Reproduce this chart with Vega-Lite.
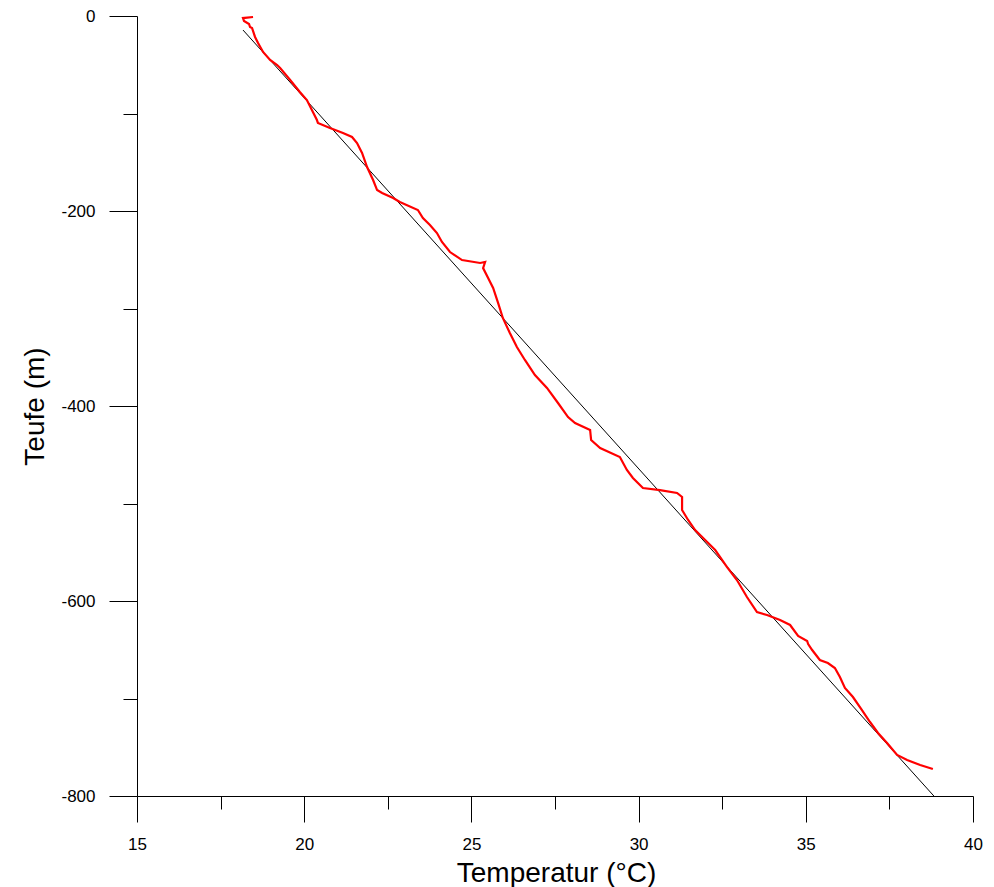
{
  "$schema": "https://vega.github.io/schema/vega-lite/v6.json",
  "autosize": "none",
  "width": 836,
  "height": 780,
  "padding": {"left": 137, "top": 16, "right": 21, "bottom": 91},
  "background": "white",
  "config": {"view": {"stroke": null}, "font": "Liberation Sans"},
  "datasets": {
    "profile": [
      {"i": 1, "T": 18.47, "z": -1.0},
      {"i": 2, "T": 18.17, "z": -2.1},
      {"i": 3, "T": 18.2, "z": -5.1},
      {"i": 4, "T": 18.35, "z": -8.2},
      {"i": 5, "T": 18.38, "z": -11.3},
      {"i": 6, "T": 18.44, "z": -12.3},
      {"i": 7, "T": 18.53, "z": -21.5},
      {"i": 8, "T": 18.62, "z": -27.7},
      {"i": 9, "T": 18.77, "z": -36.9},
      {"i": 10, "T": 18.98, "z": -45.1},
      {"i": 11, "T": 19.19, "z": -50.3},
      {"i": 12, "T": 19.28, "z": -53.3},
      {"i": 13, "T": 19.58, "z": -65.6},
      {"i": 14, "T": 19.87, "z": -77.9},
      {"i": 15, "T": 20.08, "z": -86.2},
      {"i": 16, "T": 20.26, "z": -98.5},
      {"i": 17, "T": 20.38, "z": -106.7},
      {"i": 18, "T": 20.41, "z": -109.7},
      {"i": 19, "T": 20.77, "z": -114.9},
      {"i": 20, "T": 21.16, "z": -120.0},
      {"i": 21, "T": 21.43, "z": -124.1},
      {"i": 22, "T": 21.58, "z": -130.3},
      {"i": 23, "T": 21.73, "z": -140.5},
      {"i": 24, "T": 21.88, "z": -154.9},
      {"i": 25, "T": 22.06, "z": -168.2},
      {"i": 26, "T": 22.18, "z": -178.5},
      {"i": 27, "T": 22.33, "z": -181.5},
      {"i": 28, "T": 22.66, "z": -186.7},
      {"i": 29, "T": 22.86, "z": -190.8},
      {"i": 30, "T": 23.4, "z": -199.0},
      {"i": 31, "T": 23.55, "z": -207.2},
      {"i": 32, "T": 23.76, "z": -214.4},
      {"i": 33, "T": 23.97, "z": -222.6},
      {"i": 34, "T": 24.12, "z": -231.8},
      {"i": 35, "T": 24.36, "z": -242.1},
      {"i": 36, "T": 24.72, "z": -250.3},
      {"i": 37, "T": 25.26, "z": -253.3},
      {"i": 38, "T": 25.41, "z": -252.3},
      {"i": 39, "T": 25.35, "z": -258.5},
      {"i": 40, "T": 25.5, "z": -268.7},
      {"i": 41, "T": 25.65, "z": -279.0},
      {"i": 42, "T": 25.8, "z": -294.4},
      {"i": 43, "T": 25.94, "z": -309.7},
      {"i": 44, "T": 26.15, "z": -325.1},
      {"i": 45, "T": 26.36, "z": -339.5},
      {"i": 46, "T": 26.6, "z": -352.8},
      {"i": 47, "T": 26.9, "z": -368.2},
      {"i": 48, "T": 27.26, "z": -381.5},
      {"i": 49, "T": 27.59, "z": -396.9},
      {"i": 50, "T": 27.89, "z": -411.3},
      {"i": 51, "T": 28.1, "z": -417.4},
      {"i": 52, "T": 28.55, "z": -424.6},
      {"i": 53, "T": 28.58, "z": -434.9},
      {"i": 54, "T": 28.85, "z": -443.1},
      {"i": 55, "T": 29.44, "z": -452.3},
      {"i": 56, "T": 29.65, "z": -465.6},
      {"i": 57, "T": 29.83, "z": -473.8},
      {"i": 58, "T": 30.13, "z": -484.1},
      {"i": 59, "T": 30.64, "z": -486.2},
      {"i": 60, "T": 31.15, "z": -489.2},
      {"i": 61, "T": 31.3, "z": -493.3},
      {"i": 62, "T": 31.3, "z": -506.7},
      {"i": 63, "T": 31.48, "z": -516.9},
      {"i": 64, "T": 31.69, "z": -527.2},
      {"i": 65, "T": 31.99, "z": -537.4},
      {"i": 66, "T": 32.29, "z": -547.7},
      {"i": 67, "T": 32.64, "z": -565.1},
      {"i": 68, "T": 32.94, "z": -578.5},
      {"i": 69, "T": 33.24, "z": -595.9},
      {"i": 70, "T": 33.54, "z": -611.3},
      {"i": 71, "T": 33.84, "z": -614.4},
      {"i": 72, "T": 34.23, "z": -619.5},
      {"i": 73, "T": 34.53, "z": -624.6},
      {"i": 74, "T": 34.77, "z": -635.9},
      {"i": 75, "T": 35.04, "z": -641.0},
      {"i": 76, "T": 35.07, "z": -644.1},
      {"i": 77, "T": 35.19, "z": -650.3},
      {"i": 78, "T": 35.42, "z": -660.5},
      {"i": 79, "T": 35.66, "z": -663.6},
      {"i": 80, "T": 35.87, "z": -668.7},
      {"i": 81, "T": 36.02, "z": -678.0},
      {"i": 82, "T": 36.17, "z": -689.2},
      {"i": 83, "T": 36.41, "z": -698.5},
      {"i": 84, "T": 36.68, "z": -711.8},
      {"i": 85, "T": 36.92, "z": -724.1},
      {"i": 86, "T": 37.16, "z": -735.4},
      {"i": 87, "T": 37.43, "z": -745.6},
      {"i": 88, "T": 37.73, "z": -757.9},
      {"i": 89, "T": 38.03, "z": -763.1},
      {"i": 90, "T": 38.42, "z": -768.2},
      {"i": 91, "T": 38.8, "z": -772.3}
    ],
    "fit": [
      {"i": 1, "T": 18.17, "z": -14.4},
      {"i": 2, "T": 38.83, "z": -800}
    ]
  },
  "layer": [
    {
      "data": {"name": "fit"},
      "mark": {"type": "line", "color": "black", "strokeWidth": 1},
      "encoding": {
        "x": {
          "field": "T", "type": "quantitative",
          "scale": {"domain": [15, 40], "nice": false, "zero": false},
          "axis": {
            "title": "Temperatur (°C)",
            "values": [15, 17.5, 20, 22.5, 25, 27.5, 30, 32.5, 35, 37.5, 40],
            "labelExpr": "datum.value % 5 === 0 ? '' + datum.value : ''",
            "grid": false,
            "domainColor": "black",
            "tickColor": "black",
            "tickSize": 26,
            "tickDash": {"condition": {"test": "datum.value % 5 === 0", "value": [1000, 0]}, "value": [13, 100]},
            "labelFont": "Liberation Sans",
            "labelFontSize": 17,
            "labelColor": "black",
            "labelPadding": 14,
            "labelFlush": false,
            "labelOverlap": false,
            "titleFont": "Liberation Sans",
            "titleFontSize": 28,
            "titleFontWeight": "normal",
            "titleColor": "black",
            "titleBaseline": "alphabetic",
            "titleX": 419,
            "titleY": 85
          }
        },
        "y": {
          "field": "z", "type": "quantitative",
          "scale": {"domain": [-800, 0], "nice": false, "zero": false},
          "axis": {
            "title": "Teufe (m)",
            "values": [-800, -700, -600, -500, -400, -300, -200, -100, 0],
            "labelExpr": "datum.value % 200 === 0 ? '' + datum.value : ''",
            "grid": false,
            "domainColor": "black",
            "tickColor": "black",
            "tickSize": 28,
            "tickDash": {"condition": {"test": "datum.value % 200 === 0", "value": [1000, 0]}, "value": [14, 100]},
            "labelFont": "Liberation Sans",
            "labelFontSize": 17,
            "labelColor": "black",
            "labelPadding": 14,
            "labelFlush": false,
            "labelOverlap": false,
            "titleFont": "Liberation Sans",
            "titleFontSize": 28,
            "titleFontWeight": "normal",
            "titleColor": "black",
            "titleAngle": -90,
            "titleBaseline": "alphabetic",
            "titleAlign": "center",
            "titleX": -94,
            "titleY": 390
          }
        },
        "order": {"field": "i"}
      }
    },
    {
      "data": {"name": "profile"},
      "mark": {"type": "line", "color": "#ff0000", "strokeWidth": 2.2},
      "encoding": {
        "x": {"field": "T", "type": "quantitative"},
        "y": {"field": "z", "type": "quantitative"},
        "order": {"field": "i"}
      }
    }
  ]
}
